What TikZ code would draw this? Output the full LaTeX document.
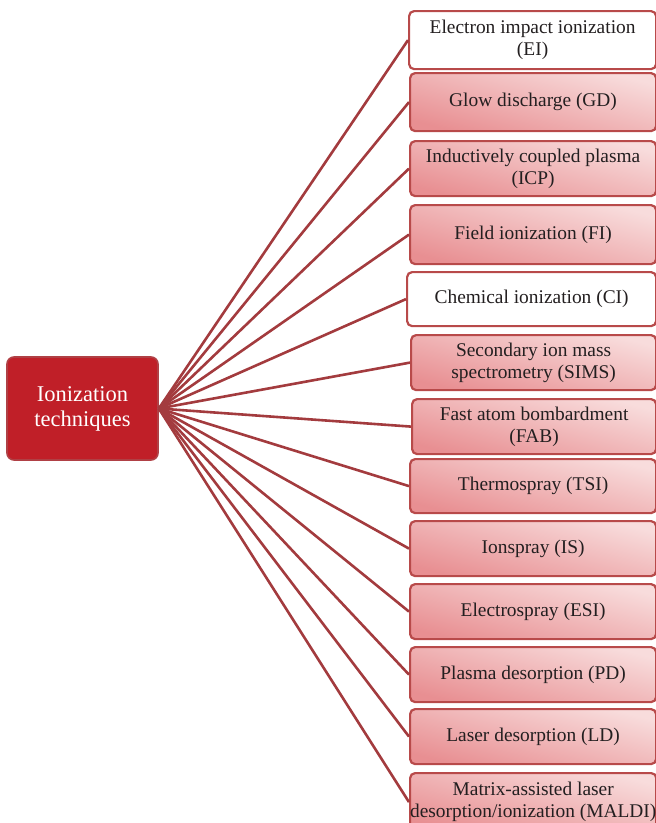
\documentclass[tikz,border=0pt]{standalone}
\usepackage{fontspec}
\setmainfont{Liberation Serif}
\definecolor{hubfill}{HTML}{C01F28}
\definecolor{hubedge}{HTML}{B04045}
\definecolor{boxedge}{HTML}{B84A4A}
\definecolor{wire}{HTML}{A33B3E}
\definecolor{pinklight}{HTML}{F8DCDC}
\definecolor{pinkdark}{HTML}{E88F92}
\definecolor{ink}{HTML}{231F20}
\tikzset{
  hub/.style={draw=hubedge, line width=1.6pt, fill=hubfill, rounded corners=7pt,
    text=white, align=center, font=\fontsize{22.5}{25}\selectfont,
    minimum width=151pt, minimum height=103pt, inner sep=0pt},
  item/.style={draw=boxedge, line width=2.2pt, rounded corners=5pt, anchor=north west,
    text=ink, align=center, font=\fontsize{19.4}{22}\selectfont, inner sep=0pt},
  shaded item/.style={item, top color=pinklight, bottom color=pinkdark, shading angle=-15},
  plain item/.style={item, fill=white},
  wire/.style={draw=wire, line width=2.6pt},
}
\begin{document}
\begin{tikzpicture}[x=1pt, y=-1pt]
  \useasboundingbox (0,0) rectangle (656,823);
  \clip (0,0) rectangle (656,823);

  \node[hub] (hub) at (82.5,408.5) {Ionization\\techniques};

  \node[plain item,  minimum width=247pt, minimum height=58pt] (ei)    at (408,10)  {Electron impact ionization\\(EI)};
  \node[shaded item, minimum width=246pt, minimum height=58pt] (gd)    at (409,72)  {Glow discharge (GD)};
  \node[shaded item, minimum width=246pt, minimum height=55pt] (icp)   at (409,140) {Inductively coupled plasma\\(ICP)};
  \node[shaded item, minimum width=246pt, minimum height=59pt] (fi)    at (409,204) {Field ionization (FI)};
  \node[plain item,  minimum width=249pt, minimum height=54pt] (ci)    at (406,271) {Chemical ionization (CI)};
  \node[shaded item, minimum width=245pt, minimum height=55pt] (sims)  at (410,334) {Secondary ion mass\\spectrometry (SIMS)};
  \node[shaded item, minimum width=244pt, minimum height=55pt] (fab)   at (411,398) {Fast atom bombardment\\(FAB)};
  \node[shaded item, minimum width=246pt, minimum height=54pt] (tsi)   at (409,458) {Thermospray (TSI)};
  \node[shaded item, minimum width=246pt, minimum height=55pt] (is)    at (409,520) {Ionspray (IS)};
  \node[shaded item, minimum width=246pt, minimum height=55pt] (esi)   at (409,583) {Electrospray (ESI)};
  \node[shaded item, minimum width=246pt, minimum height=55pt] (pd)    at (409,646) {Plasma desorption (PD)};
  \node[shaded item, minimum width=246pt, minimum height=55pt] (ld)    at (409,708) {Laser desorption (LD)};
  \node[shaded item, minimum width=246pt, minimum height=58pt] (maldi) at (409,772) {Matrix-assisted laser\\desorption/ionization (MALDI)};

  \foreach \t in {ei,gd,icp,fi,ci,sims,fab,tsi,is,esi,pd,ld,maldi}
    \draw[wire] (hub.east) -- (\t.west);
\end{tikzpicture}
\end{document}
